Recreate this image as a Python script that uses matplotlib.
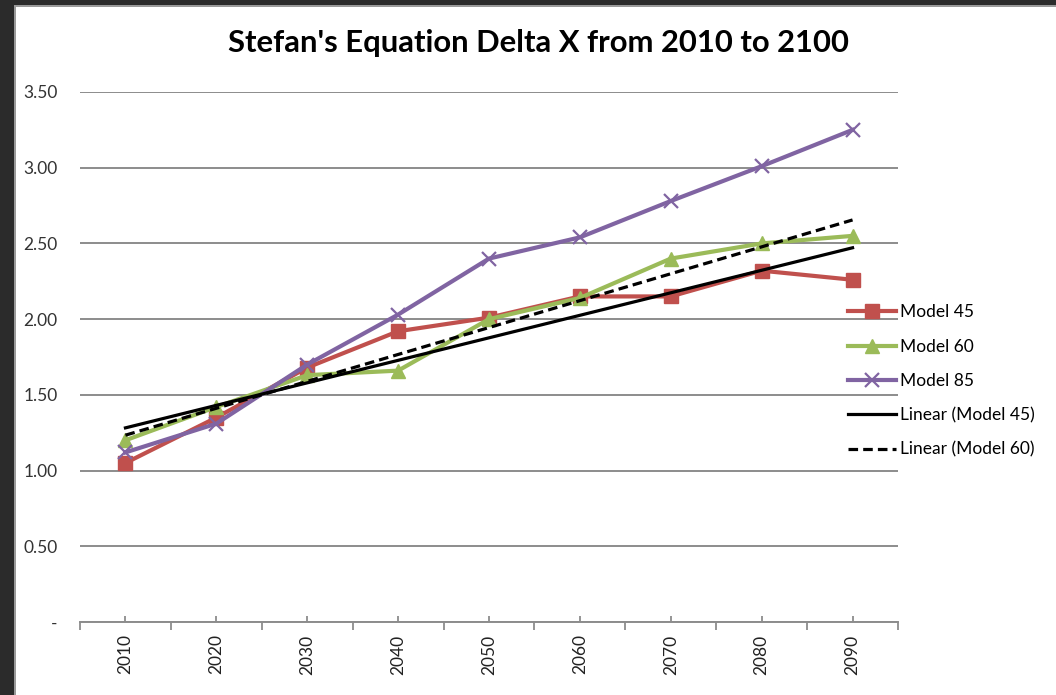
import numpy as np
import matplotlib
matplotlib.use("Agg")
import matplotlib.pyplot as plt
from matplotlib.patches import Rectangle

plt.rcParams['font.family'] = ['Lato', 'DejaVu Sans']

years = ['2010', '2020', '2030', '2040', '2050', '2060', '2070', '2080', '2090']
model_45 = [1.05, 1.35, 1.68, 1.92, 2.01, 2.15, 2.15, 2.32, 2.26]
model_60 = [1.20, 1.42, 1.63, 1.66, 2.00, 2.14, 2.40, 2.50, 2.55]
model_85 = [1.12, 1.31, 1.70, 2.03, 2.40, 2.54, 2.78, 3.01, 3.25]
y_ticks = [0, 0.5, 1.0, 1.5, 2.0, 2.5, 3.0, 3.5]

W, H = 1056, 695
fig = plt.figure(figsize=(W / 100, H / 100), dpi=100)
fig.patch.set_facecolor('#2b2b2b')

# white chart area with a thin grey edge
fig.add_artist(Rectangle((14 / W, 0), 1, 1 - 5 / H, transform=fig.transFigure,
                         facecolor='#9a9a9a', edgecolor='none', zorder=0))
fig.add_artist(Rectangle((16 / W, 0), 1, 1 - 7 / H, transform=fig.transFigure,
                         facecolor='white', edgecolor='none', zorder=0))

ax = fig.add_axes([80 / W, 1 - 622 / H, (898 - 80) / W, (622 - 92) / H])
ax.set_facecolor('none')

x = np.arange(1, len(years) + 1)

ax.plot(x, model_45, color='#C0504D', lw=3, marker='s', ms=10,
        label='Model 45', zorder=3)
ax.plot(x, model_60, color='#9BBB59', lw=3, marker='^', ms=10.5,
        label='Model 60', zorder=4)
ax.plot(x, model_85, color='#8064A2', lw=3, marker='x', ms=9.5, mew=1.6,
        label='Model 85', zorder=5)

# linear trendlines
for vals, ls, name in [(model_45, '-', 'Linear (Model 45)'),
                       (model_60, (0, (3, 1.6)), 'Linear (Model 60)')]:
    k, b = np.polyfit(x, vals, 1)
    ax.plot(x[[0, -1]], k * x[[0, -1]] + b, color='black', lw=2.3,
            linestyle=ls, label=name, zorder=6)

ax.set_xlim(0.5, len(years) + 0.5)
ax.set_ylim(0, 3.5)

ax.set_yticks(y_ticks)
ax.set_yticklabels(['-'] + ['%.2f' % v for v in y_ticks[1:]])
ax.yaxis.grid(True, color='#8c8c8c', lw=1.4)
ax.set_axisbelow(True)
ax.tick_params(axis='y', length=0, pad=16, labelsize=12.5, labelcolor='#333333')

ax.set_xticks(x)
ax.set_xticklabels(years, rotation=90)
ax.set_xticks(np.arange(0.5, len(years) + 1), minor=True)
ax.tick_params(axis='x', which='major', direction='in', length=4, width=1.3,
               color='#8c8c8c', pad=9, labelsize=12.5, labelcolor='#222222')
ax.tick_params(axis='x', which='minor', direction='out', length=6, width=1.3,
               color='#8c8c8c')

for s in ['left', 'right', 'top']:
    ax.spines[s].set_visible(False)
ax.spines['bottom'].set_color('#8c8c8c')
ax.spines['bottom'].set_linewidth(1.4)

fig.text(538 / W, 1 - 43 / H, "Stefan's Equation Delta X from 2010 to 2100",
         ha='center', va='center', fontsize=22.3, fontweight='bold')

ax.legend(loc='center left', bbox_to_anchor=(848 / W, 1 - 381 / H),
          bbox_transform=fig.transFigure, frameon=False, fontsize=12.5,
          handlelength=2.75, handletextpad=0.25, labelspacing=1.05,
          borderpad=0, borderaxespad=0)

fig.savefig('out.png', dpi=100, facecolor=fig.get_facecolor())
